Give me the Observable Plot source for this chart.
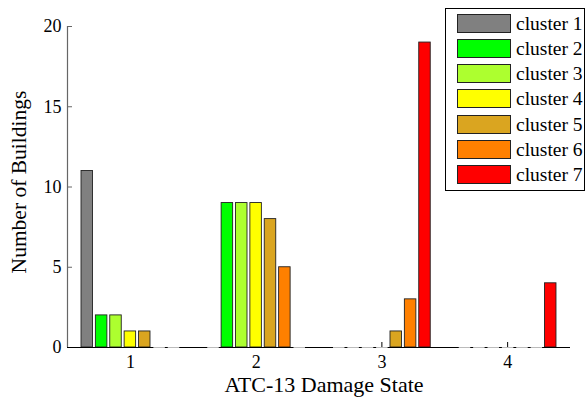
<!DOCTYPE html>
<html><head><meta charset="utf-8">
<script src="https://cdn.jsdelivr.net/npm/d3@7"></script>
<script src="https://cdn.jsdelivr.net/npm/@observablehq/plot@0.6"></script>
<style>
body{margin:0;background:#fff;}
#wrap{position:relative;width:587px;height:400px;font-family:'Liberation Serif','Times New Roman','DejaVu Serif',serif;}
#wrap svg text{font-family:'Liberation Serif','Times New Roman','DejaVu Serif',serif;}
#legend{position:absolute;left:445px;top:8px;width:140px;height:183px;border:1px solid #000;background:#fff;box-sizing:border-box;}
.row{position:absolute;left:11px;height:19px;display:flex;align-items:center;white-space:nowrap;}
.sw{width:54px;height:19px;box-sizing:border-box;border:1px solid #222;}
.lb{margin-left:5px;font-size:19.5px;color:#000;line-height:19px;font-family:'Liberation Serif','Times New Roman','DejaVu Serif',serif;}
</style></head><body><div id="wrap"></div>
<script>
const damageStates = [1, 2, 3, 4];
const clusters = ["cluster 1", "cluster 2", "cluster 3", "cluster 4", "cluster 5", "cluster 6", "cluster 7"];
const clusterColors = ["#808080", "#00ff00", "#adff2f", "#ffff00", "#daa520", "#ff8000", "#ff0000"];
// counts per cluster, for damage states 1..4
const cluster1 = [11, 0, 0, 0];
const cluster2 = [2, 9, 0, 0];
const cluster3 = [2, 9, 0, 0];
const cluster4 = [1, 9, 0, 0];
const cluster5 = [1, 8, 1, 0];
const cluster6 = [0, 5, 3, 0];
const cluster7 = [0, 0, 19, 4];
const yTicks = [0, 5, 10, 15, 20];
const xTicks = [1, 2, 3, 4];

const series = [cluster1, cluster2, cluster3, cluster4, cluster5, cluster6, cluster7];
const n = clusters.length;
const groupWidth = Math.min(0.8, n / (n + 1.5));
const step = groupWidth / n;
const half = step * 0.4;
const rows = [];
series.forEach((vals, i) => vals.forEach((v, j) => rows.push({state: damageStates[j], cluster: clusters[i], i, value: v})));
const center = d => d.state + (d.i - (n - 1) / 2) * step;
const FONT = "Liberation Serif, Times New Roman, DejaVu Serif, serif";

const chart = Plot.plot({
  width: 587, height: 400,
  marginLeft: 67, marginRight: 17, marginTop: 26, marginBottom: 53,
  style: {fontFamily: FONT, fontSize: "18px", color: "#000", background: "#fff"},
  x: {domain: [0.5, 4.5]},
  y: {domain: [0, 20]},
  color: {domain: clusters, range: clusterColors},
  marks: [
    Plot.axisY(yTicks, {tickSize: 5, dx: 5, tickFormat: () => "", stroke: "#666", label: null}),
    Plot.axisY(yTicks, {tickSize: 0, tickPadding: 6, tickFormat: d => String(d), label: null, fill: "#000", fontSize: 18, fontFamily: FONT}),
    Plot.axisX(xTicks, {tickSize: 5, dy: -5, tickFormat: () => "", stroke: "#000", label: null}),
    Plot.axisX(xTicks, {tickSize: 0, tickPadding: 8, tickFormat: d => String(d), label: null, fill: "#000", fontSize: 18, fontFamily: FONT}),
    Plot.text(["Number of Buildings"], {frameAnchor: "left", dx: -48, dy: -5, rotate: -90, text: d => d, fontSize: 21.5, fontFamily: FONT, fill: "#000", textAnchor: "middle", lineAnchor: "middle"}),
    Plot.text(["ATC-13 Damage State"], {frameAnchor: "bottom", dx: 5, dy: 37, text: d => d, fontSize: 22, fontFamily: FONT, fill: "#000", textAnchor: "middle", lineAnchor: "middle"}),
    Plot.rectY(rows.filter(d => d.value > 0), {x1: d => center(d) - half, x2: d => center(d) + half, y1: 0, y2: "value", fill: "cluster", stroke: "#222", strokeWidth: 0.9}),
    Plot.ruleX([0.5], {stroke: "#666", strokeWidth: 1.2}),
    Plot.ruleY([0], {stroke: "#000", strokeWidth: 1.2}),
    Plot.link(rows.filter(d => d.value === 0), {x1: d => center(d) - half, x2: d => center(d) + half, y1: 0, y2: 0, stroke: "#bbb", strokeWidth: 1})
  ]
});
const wrap = document.getElementById("wrap");
wrap.appendChild(chart);
const legend = document.createElement("div");
legend.id = "legend";
clusters.forEach((c, i) => {
  const row = document.createElement("div");
  row.className = "row";
  row.style.top = (4.5 + i * 25.3) + "px";
  const sw = document.createElement("div");
  sw.className = "sw";
  sw.style.background = clusterColors[i];
  const lb = document.createElement("span");
  lb.className = "lb";
  lb.textContent = c;
  row.appendChild(sw); row.appendChild(lb);
  legend.appendChild(row);
});
wrap.appendChild(legend);
</script></body></html>
